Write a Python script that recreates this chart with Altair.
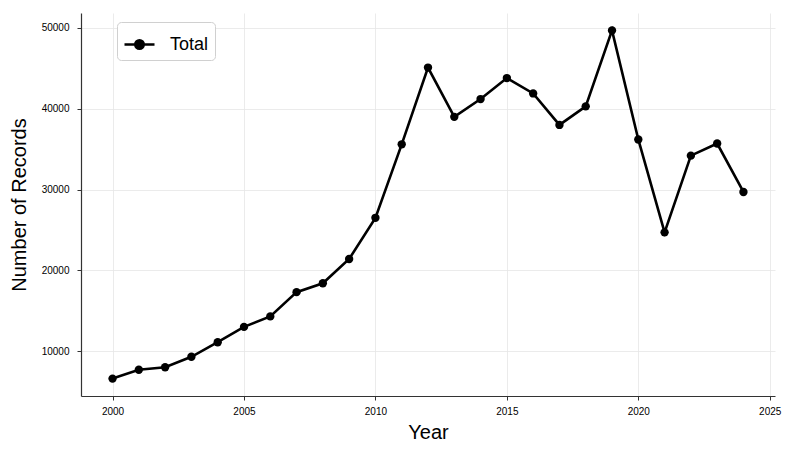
import altair as alt
import pandas as pd

years = list(range(2000, 2025))
records = [6600, 7700, 8000, 9300, 11100, 13000, 14300, 17300, 18400, 21400,
           26500, 35600, 45100, 39000, 41200, 43800, 41900, 38000, 40300, 49700,
           36200, 24700, 34200, 35700, 29700]
series = ["Total"] * len(years)

df = pd.DataFrame({"Year": years, "Records": records, "Series": series})

font = "Liberation Sans"

sym = "M -1 0 L 1 0 M 0.28 0 A 0.28 0.28 0 1 1 -0.28 0 A 0.28 0.28 0 1 1 0.28 0 Z"

chart = alt.Chart(df).mark_line(
    point=alt.OverlayMarkDef(filled=True, size=70, color="black"),
    strokeWidth=2.6,
).encode(
    x=alt.X("Year:Q", title="Year",
            scale=alt.Scale(domain=[1998.8, 2025.2], nice=False, zero=False),
            axis=alt.Axis(values=[2000, 2005, 2010, 2015, 2020, 2025], format="d")),
    y=alt.Y("Records:Q", title="Number of Records",
            scale=alt.Scale(domain=[4445, 51855], nice=False, zero=False),
            axis=alt.Axis(values=[10000, 20000, 30000, 40000, 50000], format="d")),
    color=alt.Color("Series:N", scale=alt.Scale(range=["black"]),
                    legend=alt.Legend(title=None, orient="none", legendX=36, legendY=9,
                                      symbolType=sym, symbolSize=900,
                                      symbolStrokeWidth=2.6, symbolFillColor="black",
                                      symbolStrokeColor="black",
                                      labelFontSize=18, labelFont=font, labelColor="black",
                                      strokeColor="#d0d0d0", fillColor="white",
                                      cornerRadius=4, padding=6, labelOffset=14)),
).properties(
    width=694, height=383,
    autosize=alt.AutoSizeParams(type="none"),
    padding={"left": 73, "top": 5, "right": 11, "bottom": 53},
).configure_view(
    stroke=None
).configure_axis(
    labelFont=font, labelFontSize=10, labelColor="black",
    titleFont=font, titleFontSize=20, titleColor="black", titleFontWeight="normal",
    domainColor="#333333", domainWidth=1.2,
    tickColor="#333333", tickSize=4,
    gridColor="#e6e6e6", gridWidth=0.8,
).configure_axisX(
    titlePadding=6, labelPadding=6
).configure_axisY(
    titlePadding=12, labelPadding=8
)

chart.save("out.html", embed_options={"renderer": "svg", "actions": False})
